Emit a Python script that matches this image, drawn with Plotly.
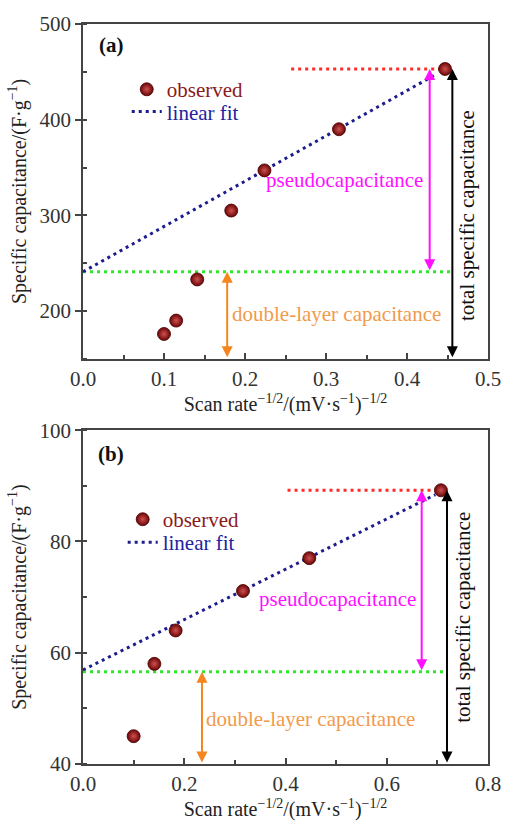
import plotly.graph_objects as go

FONT = "Liberation Serif, Times New Roman, serif"

# ---------------- data: panel (a) ----------------
a_x = [0.100, 0.115, 0.141, 0.183, 0.224, 0.316, 0.447]
a_y = [176, 190, 233, 305, 347, 390, 453]
a_fit_x = [0.0, 0.435]
a_fit_y = [241, 447]
a_total_line_x = [0.257, 0.44]
a_total_line_y = [453, 453]
a_dl_line_x = [0.0, 0.455]
a_dl_line_y = [241, 241]
a_pseudo_arrow = dict(x=0.428, y0=241, y1=453)
a_total_arrow = dict(x=0.456, y0=150, y1=453)
a_dl_arrow = dict(x=0.178, y0=150, y1=241)
a_xticks = [0.0, 0.1, 0.2, 0.3, 0.4, 0.5]
a_yticks = [200, 300, 400, 500]

# ---------------- data: panel (b) ----------------
b_x = [0.100, 0.141, 0.183, 0.316, 0.447, 0.707]
b_y = [45.0, 58.0, 64.0, 71.1, 77.0, 89.2]
b_fit_x = [0.0, 0.696]
b_fit_y = [56.9, 88.4]
b_total_line_x = [0.404, 0.692]
b_total_line_y = [89.2, 89.2]
b_dl_line_x = [0.0, 0.715]
b_dl_line_y = [56.6, 56.6]
b_pseudo_arrow = dict(x=0.669, y0=56.6, y1=89.2)
b_total_arrow = dict(x=0.719, y0=40, y1=89.2)
b_dl_arrow = dict(x=0.235, y0=40, y1=56.6)
b_xticks = [0.0, 0.2, 0.4, 0.6, 0.8]
b_yticks = [40, 60, 80, 100]

# ---------------- styles ----------------
MARKER_EDGE = "#4a0000"
FIT_C = "#1c1c8e"
RED_C = "#ff2a2a"
GREEN_C = "#2ee82e"
MAG_C = "#ff10ff"
ORANGE_C = "#f5861f"
ORANGE_TXT = "#f29a4c"
AXIS_C = "#444444"
OBS_TXT = "#8b1a1a"
FIT_TXT = "#2222a0"
DOT = "3px,4px"

fig = go.Figure()


def add_panel(xs, ys, fx, fy, tlx, tly, dlx, dly, xa, ya, leg_obs, leg_fit):
    fig.add_trace(go.Scatter(x=dlx, y=dly, mode="lines", xaxis=xa, yaxis=ya,
                             line=dict(color=GREEN_C, width=3, dash=DOT),
                             showlegend=False, hoverinfo="skip"))
    fig.add_trace(go.Scatter(x=tlx, y=tly, mode="lines", xaxis=xa, yaxis=ya,
                             line=dict(color=RED_C, width=3, dash=DOT),
                             showlegend=False, hoverinfo="skip"))
    fig.add_trace(go.Scatter(x=fx, y=fy, mode="lines", name="linear fit",
                             xaxis=xa, yaxis=ya, legend=leg_fit,
                             line=dict(color=FIT_C, width=3, dash=DOT)))
    fig.add_trace(go.Scatter(x=xs, y=ys, mode="markers", name="observed",
                             xaxis=xa, yaxis=ya, legend=leg_obs,
                             marker=dict(size=13, color="#6a0606",
                                         gradient=dict(type="radial", color="#d05050"),
                                         line=dict(color=MARKER_EDGE, width=0.8))))


add_panel(a_x, a_y, a_fit_x, a_fit_y, a_total_line_x, a_total_line_y,
          a_dl_line_x, a_dl_line_y, "x", "y", "legend", "legend2")
add_panel(b_x, b_y, b_fit_x, b_fit_y, b_total_line_x, b_total_line_y,
          b_dl_line_x, b_dl_line_y, "x2", "y2", "legend3", "legend4")

annotations = []


def arrow(spec, color, xref, yref):
    annotations.append(dict(x=spec["x"], y=spec["y1"], ax=spec["x"], ay=spec["y0"],
                            xref=xref, yref=yref, axref=xref, ayref=yref,
                            text="", showarrow=True, arrowhead=2, arrowside="end+start",
                            arrowsize=1.1, arrowwidth=2, arrowcolor=color, standoff=0,
                            startstandoff=0))


def label(text, x, y, color, xref, yref, angle=0, size=21):
    annotations.append(dict(x=x, y=y, xref=xref, yref=yref, text=text,
                            showarrow=False, textangle=angle,
                            font=dict(family=FONT, size=size, color=color),
                            xanchor="center", yanchor="middle"))


arrow(a_pseudo_arrow, MAG_C, "x", "y")
arrow(a_total_arrow, "#000000", "x", "y")
arrow(a_dl_arrow, ORANGE_C, "x", "y")
arrow(b_pseudo_arrow, MAG_C, "x2", "y2")
arrow(b_total_arrow, "#000000", "x2", "y2")
arrow(b_dl_arrow, ORANGE_C, "x2", "y2")

label("pseudocapacitance", 0.323, 337, MAG_C, "x", "y")
label("double-layer capacitance", 0.3135, 197, ORANGE_TXT, "x", "y")
label("total specific capacitance", 0.475, 300, "#111111", "x", "y", angle=-90)
label("<b>(a)</b>", 0.035, 478, "#111111", "x", "y")

label("pseudocapacitance", 0.502, 69.6, MAG_C, "x2", "y2")
label("double-layer capacitance", 0.45, 48.05, ORANGE_TXT, "x2", "y2")
label("total specific capacitance", 0.75, 66.4, "#111111", "x2", "y2", angle=-90)
label("<b>(b)</b>", 0.056, 95.8, "#111111", "x2", "y2")

XTITLE = "Scan rate<sup>−1/2</sup>/(mV·s<sup>−1</sup>)<sup>−1/2</sup>"
YTITLE = "Specific capacitance/(F·g<sup>−1</sup>)"

common_x = dict(showline=True, linecolor=AXIS_C, linewidth=1.5, mirror=True,
                ticks="inside", ticklen=6, tickwidth=1.5, tickcolor=AXIS_C,
                showgrid=False, zeroline=False, tickformat=".1f",
                tickfont=dict(family=FONT, size=21, color="#333333"),
                title=dict(text=XTITLE, font=dict(family=FONT, size=20, color="#222222"),
                           standoff=4))
common_y = dict(showline=True, linecolor=AXIS_C, linewidth=1.5, mirror=True,
                ticks="outside", ticklen=6, tickwidth=1.5, tickcolor=AXIS_C,
                showgrid=False, zeroline=False,
                tickfont=dict(family=FONT, size=21, color="#333333"),
                title=dict(text=YTITLE, font=dict(family=FONT, size=20, color="#222222"),
                           standoff=8))


def leg(x, y, color):
    return dict(x=x, y=y, font=dict(family=FONT, size=21, color=color),
                bgcolor="rgba(0,0,0,0)", xanchor="left", yanchor="top",
                itemwidth=30)


fig.update_layout(
    width=513, height=826,
    margin=dict(l=83, r=14, t=22, b=57),
    paper_bgcolor="white", plot_bgcolor="white",
    font=dict(family=FONT, color="#222222"),
    xaxis=dict(domain=[0, 1], anchor="y", range=[0, 0.5], tickvals=a_xticks,
               minor=dict(dtick=0.05, ticks="inside", ticklen=4, tickcolor=AXIS_C),
               **common_x),
    yaxis=dict(domain=[0.5475, 1], anchor="x", range=[150, 500], tickvals=a_yticks,
               minor=dict(dtick=50, ticks="inside", ticklen=4, tickcolor=AXIS_C),
               **common_y),
    xaxis2=dict(domain=[0, 1], anchor="y2", range=[0, 0.8], tickvals=b_xticks,
                minor=dict(dtick=0.1, ticks="inside", ticklen=4, tickcolor=AXIS_C),
                **common_x),
    yaxis2=dict(domain=[0, 0.4511], anchor="x2", range=[40, 100], tickvals=b_yticks,
                minor=dict(dtick=10, ticks="inside", ticklen=4, tickcolor=AXIS_C),
                **common_y),
    legend=leg(0.108, 0.939, OBS_TXT),
    legend2=leg(0.108, 0.909, FIT_TXT),
    legend3=leg(0.098, 0.358, OBS_TXT),
    legend4=leg(0.098, 0.327, FIT_TXT),
    annotations=annotations,
)

fig.write_html("out.html")
